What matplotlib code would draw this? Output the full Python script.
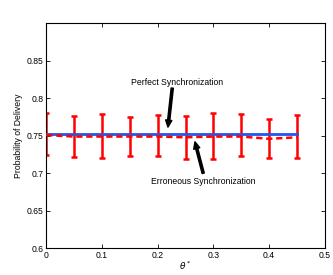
import numpy as np
import matplotlib
matplotlib.use('Agg')
import matplotlib.pyplot as plt

theta = [0.0, 0.05, 0.1, 0.15, 0.2, 0.25, 0.3, 0.35, 0.4, 0.45]
perfect = [0.752, 0.752, 0.752, 0.752, 0.752, 0.752, 0.752, 0.752, 0.752, 0.752]
erroneous = [0.751, 0.749, 0.749, 0.749, 0.749, 0.748, 0.749, 0.749, 0.746, 0.748]
upper = [0.7807, 0.7763, 0.779, 0.7745, 0.7776, 0.776, 0.7798, 0.7795, 0.773, 0.7776]
lower = [0.7243, 0.722, 0.7207, 0.7233, 0.723, 0.719, 0.7188, 0.723, 0.720, 0.720]

plt.rcParams['font.family'] = ['Liberation Sans', 'DejaVu Sans']

fig = plt.figure(figsize=(3.33, 2.75), dpi=100)
ax = fig.add_axes([46.3 / 333, 1 - 248.3 / 275, (324.7 - 46.3) / 333, (248.3 - 23.3) / 275])

err = np.array([np.array(erroneous) - np.array(lower), np.array(upper) - np.array(erroneous)])
ax.errorbar(theta, erroneous, yerr=err, fmt='none', ecolor='red', elinewidth=1.8,
            capsize=2.5, capthick=1.8, zorder=2)
ax.plot(theta, perfect, color='#2255ee', lw=2, zorder=3)
ax.plot(theta, erroneous, color='red', lw=1.8, ls=(0, (2.5, 1.5)), zorder=4)

arrow = dict(facecolor='black', edgecolor='black', width=1.6, headwidth=4.5, headlength=5, shrink=0)
ax.text(0.2347, 0.8216, 'Perfect Synchronization', ha='center', va='center', fontsize=6.2)
ax.annotate('', xy=(0.2185, 0.7616), xytext=(0.2262, 0.8136), arrowprops=arrow)
ax.text(0.2813, 0.6896, 'Erroneous Synchronization', ha='center', va='center', fontsize=6.2)
ax.annotate('', xy=(0.267, 0.742), xytext=(0.2818, 0.700), arrowprops=arrow)

ax.set_xlim(0, 0.5)
ax.set_ylim(0.6, 0.9)
ax.set_xticks([0, 0.1, 0.2, 0.3, 0.4, 0.5])
ax.set_xticklabels(['0', '0.1', '0.2', '0.3', '0.4', '0.5'])
ax.set_yticks([0.6, 0.65, 0.7, 0.75, 0.8, 0.85])
ax.set_yticklabels(['0.6', '0.65', '0.7', '0.75', '0.8', '0.85'])
ax.tick_params(direction='in', top=True, right=True, labelsize=6.2, length=3, width=0.6, pad=2)
for s in ax.spines.values():
    s.set_linewidth(0.8)
ax.set_xlabel(r'$\theta^*$', fontsize=6.5, labelpad=0)
ax.set_ylabel('Probability of Delivery', fontsize=6.2, labelpad=3)

fig.savefig('out.png', dpi=100)
